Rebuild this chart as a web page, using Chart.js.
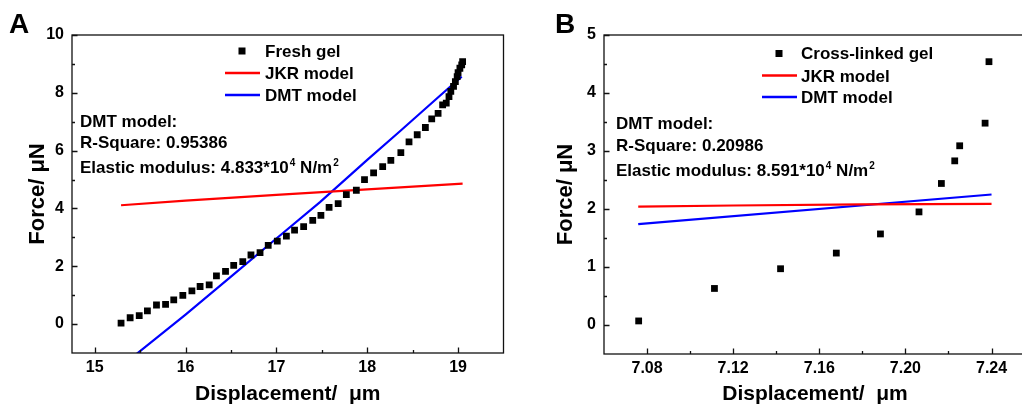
<!DOCTYPE html>
<html>
<head>
<meta charset="utf-8">
<script src="https://cdn.jsdelivr.net/npm/chart.js@4.4.1/dist/chart.umd.min.js"></script>
<style>
    html, body { margin: 0; padding: 0; background: #fff; overflow: hidden; width: 1022px; height: 405px; }
    #chartA { position: absolute; left: 0; top: 0; }
    #chartB { position: absolute; left: 540px; top: 0; }
</style>
</head>
<body>
<canvas id="chartA" width="540" height="405"></canvas>
<canvas id="chartB" width="500" height="405"></canvas>
<script>
// panel A: fresh gel
var freshX = [15.29, 15.39, 15.49, 15.58, 15.68, 15.78, 15.87, 15.97, 16.07, 16.16, 16.26, 16.34, 16.44, 16.53,
    16.63, 16.72, 16.82, 16.91, 17.01, 17.11, 17.20, 17.30, 17.40, 17.49, 17.58, 17.68, 17.77, 17.88, 17.97,
    18.07, 18.17, 18.26, 18.37, 18.46, 18.55, 18.64, 18.71, 18.78, 18.83, 18.87, 18.90, 18.92, 18.95, 18.97,
    18.99, 19.00, 19.02, 19.04, 19.05];
var freshY = [0.03, 0.22, 0.29, 0.46, 0.66, 0.68, 0.84, 0.99, 1.15, 1.30, 1.36, 1.67, 1.82, 2.03,
    2.16, 2.39, 2.47, 2.72, 2.87, 3.04, 3.25, 3.37, 3.59, 3.76, 4.04, 4.17, 4.48, 4.63, 5.00,
    5.23, 5.45, 5.66, 5.93, 6.30, 6.55, 6.80, 7.10, 7.29, 7.58, 7.64, 7.87, 8.05, 8.22, 8.39,
    8.56, 8.70, 8.85, 8.97, 9.08];
var jkrAX = [15.29, 16.0, 17.0, 18.0, 19.05];
var jkrAY = [4.11, 4.27, 4.47, 4.66, 4.86];
var dmtAX = [15.45, 16.0, 16.5, 17.0, 17.48, 18.0, 18.36, 18.80, 19.04];
var dmtAY = [-1.06, 0.33, 1.64, 2.96, 4.22, 5.68, 6.67, 7.90, 8.56];

var ticksAX = [15, 16, 17, 18, 19];
var minorAX = [15.5, 16.5, 17.5, 18.5];
var ticksAY = [0, 2, 4, 6, 8, 10];
var minorAY = [1, 3, 5, 7, 9];

// panel B: cross-linked gel
var crossX = [7.0761, 7.1113, 7.1420, 7.1679, 7.1884, 7.2063, 7.2167, 7.2229, 7.2252, 7.2370, 7.2388];
var crossY = [0.07, 0.63, 0.97, 1.24, 1.57, 1.95, 2.44, 2.83, 3.09, 3.48, 4.54];
var jkrBX = [7.0759, 7.12, 7.18, 7.24];
var jkrBY = [2.04, 2.06, 2.08, 2.09];
var dmtBX = [7.0759, 7.24];
var dmtBY = [1.74, 2.25];

var ticksBX = [7.08, 7.12, 7.16, 7.20, 7.24];
var minorBX = [7.10, 7.14, 7.18, 7.22];
var ticksBY = [0, 1, 2, 3, 4, 5];
var minorBY = [0.5, 1.5, 2.5, 3.5, 4.5];

var FONT = "'Liberation Sans', Arial, sans-serif";
Chart.defaults.font.family = FONT;
Chart.defaults.color = '#000';

function pts(xs, ys) {
    return xs.map(function (x, i) { return { x: x, y: ys[i] }; });
}

// box + inward ticks, like the Origin frame
var innerTicks = {
    id: 'innerTicks',
    afterDatasetsDraw: function (chart, args, o) {
        var ctx = chart.ctx, a = chart.chartArea, xs = chart.scales.x, ys = chart.scales.y;
        ctx.save();
        ctx.strokeStyle = '#111';
        ctx.lineWidth = 1.3;
        ctx.strokeRect(a.left, a.top, a.right - a.left, a.bottom - a.top);
        ctx.beginPath();
        function xt(v, len) {
            var p = Math.round(xs.getPixelForValue(v)) + 0.5;
            ctx.moveTo(p, a.bottom); ctx.lineTo(p, a.bottom - len);
        }
        function yt(v, len) {
            var p = Math.round(ys.getPixelForValue(v)) + 0.5;
            ctx.moveTo(a.left, p); ctx.lineTo(a.left + len, p);
        }
        xs.ticks.forEach(function (t) { xt(t.value, 5.5); });
        o.minorX.forEach(function (v) { xt(v, 3); });
        ys.ticks.forEach(function (t) { yt(t.value, 5.5); });
        o.minorY.forEach(function (v) { yt(v, 3); });
        ctx.stroke();
        ctx.restore();
    }
};

// panel letter, in-plot legend and the fit notes
var panelText = {
    id: 'panelText',
    afterDraw: function (chart, args, o) {
        var ctx = chart.ctx, a = chart.chartArea;
        ctx.save();
        ctx.fillStyle = '#000';
        ctx.textAlign = 'left';
        ctx.textBaseline = 'alphabetic';
        ctx.font = 'bold 28px ' + FONT;
        ctx.fillText(o.letter, o.letterX, o.letterY);

        ctx.font = 'bold 17px ' + FONT;
        var lg = o.legend;
        chart.data.datasets.forEach(function (ds, i) {
            var by = a.top + lg.rows[i];
            if (ds.showLine) {
                ctx.strokeStyle = ds.borderColor;
                ctx.lineWidth = 2.5;
                ctx.beginPath();
                ctx.moveTo(a.left + lg.lineX0, by - 6);
                ctx.lineTo(a.left + lg.lineX1, by - 6);
                ctx.stroke();
            } else {
                ctx.fillStyle = ds.backgroundColor;
                ctx.fillRect(a.left + lg.markX - 3.5, by - 9, 7, 7);
            }
            ctx.fillStyle = '#000';
            ctx.fillText(ds.label, a.left + lg.textX, by);
        });

        var n = o.notes, x = a.left + n.x;
        ctx.fillText('DMT model:', x, a.top + n.rows[0]);
        ctx.fillText('R-Square: ' + n.r2, x, a.top + n.rows[1]);
        var y3 = a.top + n.rows[2];
        var s1 = 'Elastic modulus: ' + n.modulus + '*10';
        ctx.fillText(s1, x, y3);
        x += ctx.measureText(s1).width;
        ctx.font = 'bold 10px ' + FONT;
        ctx.fillText('4', x + 1, y3 - 7);
        x += ctx.measureText('4').width + 1;
        ctx.font = 'bold 17px ' + FONT;
        ctx.fillText(' N/m', x, y3);
        x += ctx.measureText(' N/m').width;
        ctx.font = 'bold 10px ' + FONT;
        ctx.fillText('2', x + 1, y3 - 7);
        ctx.restore();
    }
};

function makeChart(id, cfg) {
    return new Chart(document.getElementById(id), {
        type: 'scatter',
        data: {
            datasets: [
                { label: cfg.name, data: pts(cfg.px, cfg.py), backgroundColor: '#000', borderColor: '#000',
                  pointStyle: 'rect', pointRadius: 4.8, pointHoverRadius: 4.8, borderWidth: 0 },
                { label: 'JKR model', data: pts(cfg.jx, cfg.jy), showLine: true, borderColor: '#ff0000',
                  borderWidth: 2.2, pointRadius: 0, fill: false },
                { label: 'DMT model', data: pts(cfg.dx, cfg.dy), showLine: true, borderColor: '#0000ff',
                  borderWidth: 2.2, pointRadius: 0, fill: false }
            ]
        },
        options: {
            responsive: false,
            animation: false,
            layout: { padding: cfg.pad },
            plugins: {
                legend: { display: false },
                tooltip: { enabled: false },
                innerTicks: { minorX: cfg.minorX, minorY: cfg.minorY },
                panelText: cfg.text
            },
            scales: {
                x: {
                    type: 'linear', min: cfg.xMin, max: cfg.xMax,
                    grid: { display: false, drawTicks: false },
                    border: { display: false },
                    afterBuildTicks: function (s) { s.ticks = cfg.ticksX.map(function (v) { return { value: v }; }); },
                    afterFit: function (s) { s.height = cfg.xH; },
                    ticks: { padding: 5, font: { size: 16, weight: 'bold' }, maxRotation: 0, autoSkip: false,
                             callback: cfg.fmtX },
                    title: { display: true, text: 'Displacement/  μm', padding: 0,
                             font: { size: 21, weight: 'bold', lineHeight: 1 } }
                },
                y: {
                    type: 'linear', min: cfg.yMin, max: cfg.yMax,
                    grid: { display: false, drawTicks: false },
                    border: { display: false },
                    afterBuildTicks: function (s) { s.ticks = cfg.ticksY.map(function (v) { return { value: v }; }); },
                    afterFit: function (s) { s.width = cfg.yW; },
                    ticks: { padding: 8, font: { size: 16, weight: 'bold' }, autoSkip: false },
                    title: { display: true, text: 'Force/ μN', padding: { top: cfg.yTitlePad, bottom: 0 },
                             font: { size: 22, weight: 'bold', lineHeight: 1 } }
                }
            }
        },
        plugins: [innerTicks, panelText]
    });
}

makeChart('chartA', {
    name: 'Fresh gel', px: freshX, py: freshY, jx: jkrAX, jy: jkrAY, dx: dmtAX, dy: dmtAY,
    xMin: 14.75, xMax: 19.5, yMin: -1, yMax: 10,
    ticksX: ticksAX, ticksY: ticksAY, minorX: minorAX, minorY: minorAY,
    fmtX: function (v) { return v; },
    pad: { left: 0, top: 35, right: 36.5, bottom: 0 }, xH: 52, yW: 72, yTitlePad: 27,
    text: {
        letter: 'A', letterX: 9, letterY: 33,
        legend: { markX: 170, textX: 193, lineX0: 153, lineX1: 188, rows: [21.5, 44, 66] },
        notes: { x: 8, rows: [92, 112.5, 137.5], r2: '0.95386', modulus: '4.833' }
    }
});

makeChart('chartB', {
    name: 'Cross-linked gel', px: crossX, py: crossY, jx: jkrBX, jy: jkrBY, dx: dmtBX, dy: dmtBY,
    xMin: 7.06, xMax: 7.256, yMin: -0.5, yMax: 5,
    ticksX: ticksBX, ticksY: ticksBY, minorX: minorBX, minorY: minorBY,
    fmtX: function (v) { return v.toFixed(2); },
    pad: { left: 0, top: 35, right: 14, bottom: 0 }, xH: 51, yW: 64, yTitlePad: 15,
    text: {
        letter: 'B', letterX: 15, letterY: 33,
        legend: { markX: 175, textX: 197, lineX0: 158, lineX1: 193, rows: [24, 46.5, 68] },
        notes: { x: 12, rows: [94, 116, 141], r2: '0.20986', modulus: '8.591' }
    }
});
</script>
</body>
</html>
